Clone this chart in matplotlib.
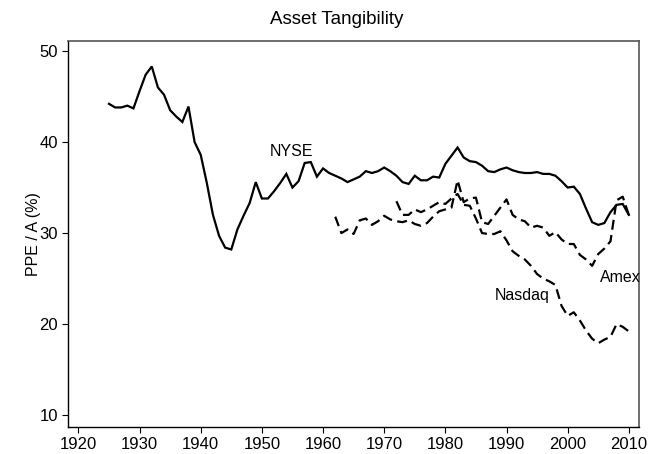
import matplotlib
matplotlib.use("Agg")
import matplotlib.pyplot as plt

plt.rcParams["font.family"] = ["Liberation Sans", "DejaVu Sans"]

# --- данные ---
nyse_years = list(range(1925, 2011))
nyse = [44.2, 43.8, 43.8, 44.0, 43.7, 45.6, 47.4, 48.3, 46.0, 45.2,
        43.5, 42.8, 42.2, 43.9, 40.0, 38.6, 35.5, 32.0, 29.7, 28.4,
        28.2, 30.4, 31.9, 33.3, 35.6, 33.8, 33.8, 34.6, 35.5, 36.5,
        35.0, 35.7, 37.7, 37.8, 36.2, 37.1, 36.6, 36.3, 36.0, 35.6,
        35.9, 36.2, 36.8, 36.6, 36.8, 37.2, 36.8, 36.3, 35.6, 35.4,
        36.3, 35.8, 35.8, 36.2, 36.1, 37.6, 38.5, 39.4, 38.3, 37.9,
        37.8, 37.4, 36.8, 36.7, 37.0, 37.2, 36.9, 36.7, 36.6, 36.6,
        36.7, 36.5, 36.5, 36.3, 35.7, 35.0, 35.1, 34.3, 32.7, 31.2,
        30.9, 31.1, 32.3, 33.1, 33.2, 32.0]

amex_years = list(range(1962, 2011))
amex = [31.8, 30.0, 30.4, 29.9, 31.4, 31.6, 30.9, 31.3, 31.9, 31.5,
        31.3, 31.2, 31.4, 31.0, 30.8, 31.1, 31.8, 32.4, 32.6, 32.8,
        35.8, 33.4, 33.8, 33.9, 31.2, 31.0, 31.9, 32.8, 33.7, 32.0,
        31.5, 31.3, 30.6, 30.8, 30.6, 29.7, 30.1, 29.3, 28.8, 28.8,
        27.6, 27.1, 26.4, 27.7, 28.3, 29.1, 33.6, 34.0, 32.0]

nasdaq_years = list(range(1972, 2011))
nasdaq = [33.5, 32.0, 32.0, 32.6, 32.3, 32.6, 33.0, 33.4, 33.2, 33.8,
          34.3, 33.1, 33.0, 31.6, 30.0, 29.9, 29.9, 30.2, 29.2, 28.0,
          27.5, 27.1, 26.4, 25.5, 25.0, 24.7, 24.3, 22.0, 20.9, 21.3,
          20.4, 19.3, 18.4, 17.9, 18.3, 18.6, 20.0, 19.7, 19.2]

x_ticks = list(range(1920, 2011, 10))
y_ticks = [10, 20, 30, 40, 50]

# --- график ---
fig = plt.figure(figsize=(6.57, 4.54), dpi=100)
ax = fig.add_axes([0.1035, 0.0595, 0.8685, 0.8502])

ax.plot(nyse_years, nyse, color="black", lw=1.6, solid_joinstyle="miter")
ax.plot(amex_years, amex, color="black", lw=1.6, dashes=(4.5, 2.4))
ax.plot(nasdaq_years, nasdaq, color="black", lw=1.6, dashes=(4.5, 2.4))

ax.text(1954.9, 39.0, "NYSE", fontsize=11.5, ha="center", va="center")
ax.text(2008.6, 25.1, "Amex", fontsize=11.5, ha="center", va="center")
ax.text(1992.5, 23.1, "Nasdaq", fontsize=11.5, ha="center", va="center")

ax.set_xlim(1918.3, 2011.6)
ax.set_ylim(8.7, 51.1)
ax.set_xticks(x_ticks)
ax.set_yticks(y_ticks)
ax.tick_params(direction="out", length=4.3, width=0.8, labelsize=12, colors="black", pad=3)
ax.set_ylabel("PPE / A (%)", fontsize=11.5)
ax.yaxis.set_label_coords(-0.047, 0.5)
fig.text(0.513, 0.956, "Asset Tangibility", fontsize=13.5, ha="center", va="center")

for side in ["left", "bottom"]:
    ax.spines[side].set_color("black")
    ax.spines[side].set_linewidth(1.0)
for side in ["top", "right"]:
    ax.spines[side].set_color("#555555")
    ax.spines[side].set_linewidth(1.2)

fig.savefig("out.png", dpi=100)
print("[+] saved out.png")
